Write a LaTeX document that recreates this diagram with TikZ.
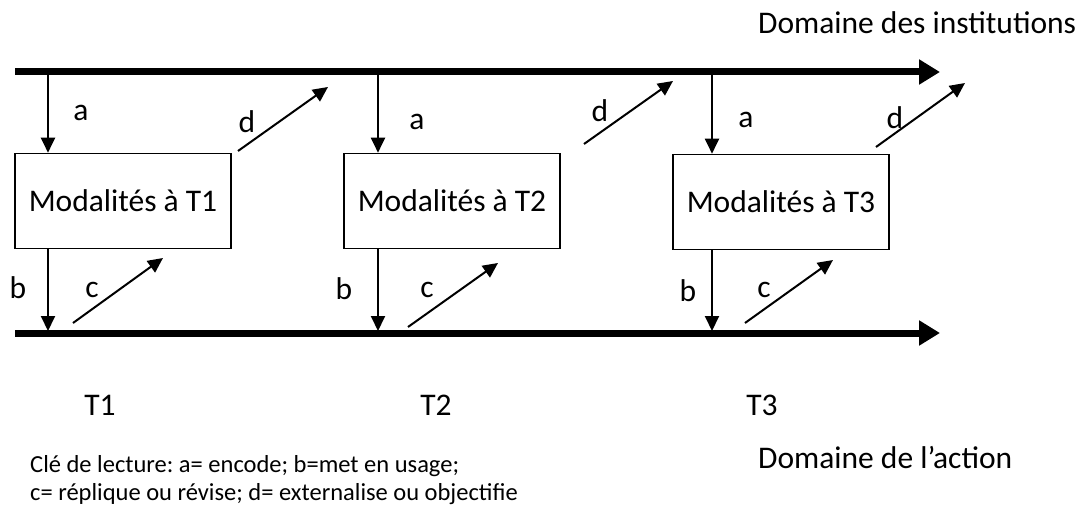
\documentclass[tikz,border=0pt]{standalone}
\usepackage{fontspec}
\setmainfont{Carlito}
\usetikzlibrary{arrows.meta}

\tikzset{
  domline/.style={line width=7pt, -{Triangle[length=21pt,width=24pt]}},
  flow/.style={line width=2pt, -{Triangle[length=15pt,width=14pt]}},
  modbox/.style={draw, line width=1.6pt, minimum width=216pt, minimum height=95pt,
    inner sep=0pt, font=\fontsize{31.5}{38}\selectfont},
  lbl/.style={inner sep=0pt, font=\fontsize{31.5}{38}\selectfont},
  keytext/.style={inner sep=0pt, anchor=base west, align=left,
    font=\fontsize{24.5}{28}\selectfont}
}

\begin{document}
\frenchspacing
\begin{tikzpicture}[x=1pt,y=-1pt]
\useasboundingbox (0,0) rectangle (1077,508);
            % Domains
\coordinate (inst0) at (15,72);
\coordinate (inst1) at (940,72);
\coordinate (act0) at (15,333);
\coordinate (act1) at (940,333);
\draw[domline] (inst0) -- (inst1);
\draw[domline] (act0) -- (act1);
\node[lbl, anchor=base west] (inst) at (758,34) {Domaine des institutions};
\node[lbl, anchor=base west] (act) at (758,468) {Domaine de l’action};
            % Modalities
\node[modbox] (m1) at (123,201) {Modalités à T1};
\node[modbox] (m2) at (452,201) {Modalités à T2};
\node[modbox] (m3) at (781,202) {Modalités à T3};
\coordinate (a1) at (48,72);
\coordinate (a2) at (378,72);
\coordinate (a3) at (712,72);
\coordinate (b1) at (48,331);
\coordinate (b2) at (378,331);
\coordinate (b3) at (712,331);
%a and b
\draw[flow] (a1) -- (a1 |- m1.north);
\draw[flow] (a2) -- (a2 |- m2.north);
\draw[flow] (a3) -- (a3 |- m3.north);
\draw[flow] (b1 |- m1.south) -- (b1);
\draw[flow] (b2 |- m2.south) -- (b2);
\draw[flow] (b3 |- m3.south) -- (b3);
%c and d
\coordinate (c1s) at (73,323);
\coordinate (c1e) at (163,258);
\coordinate (c2s) at (408,327);
\coordinate (c2e) at (498,263);
\coordinate (c3s) at (745,323);
\coordinate (c3e) at (833,260);
\coordinate (d1s) at (238,151);
\coordinate (d1e) at (328,87);
\coordinate (d2s) at (584,144);
\coordinate (d2e) at (673,81);
\coordinate (d3s) at (876,147);
\coordinate (d3e) at (965,83);
\draw[flow] (c1s) -- (c1e);
\draw[flow] (c2s) -- (c2e);
\draw[flow] (c3s) -- (c3e);
\draw[flow] (d1s) -- (d1e);
\draw[flow] (d2s) -- (d2e);
\draw[flow] (d3s) -- (d3e);
%Labels
\node[lbl] (la1) at (81,113) {a};
\node[lbl] (la2) at (417,122) {a};
\node[lbl] (la3) at (746,120) {a};
\node[lbl] (lb1) at (18,288) {b};
\node[lbl] (lb2) at (344,289) {b};
\node[lbl] (lb3) at (688,291) {b};
\node[lbl] (lc1) at (92,290) {c};
\node[lbl] (lc2) at (427,290) {c};
\node[lbl] (lc3) at (764,290) {c};
\node[lbl] (ld1) at (247,122) {d};
\node[lbl] (ld2) at (600,111) {d};
\node[lbl] (ld3) at (895,118) {d};
%Times
\node[lbl, anchor=base] (t1) at (100,415) {T1};
\node[lbl, anchor=base] (t2) at (436,415) {T2};
\node[lbl, anchor=base] (t3) at (762,415) {T3};
\node[keytext] (key) at (30,500) {Clé de lecture: a= encode; b=met en usage;\\
c= réplique ou révise; d= externalise ou objectifie};

          \end{tikzpicture}
\end{document}
